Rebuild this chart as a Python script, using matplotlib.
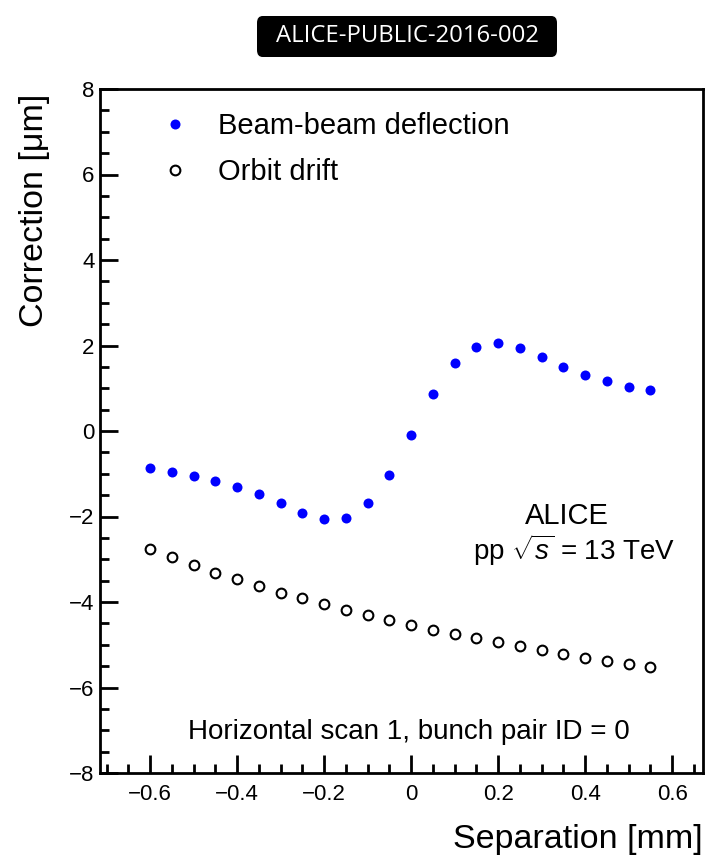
import matplotlib
matplotlib.use("Agg")
import matplotlib.pyplot as plt
from matplotlib.ticker import MultipleLocator
from matplotlib.patches import FancyBboxPatch

plt.rcParams['font.family'] = ['Liberation Sans', 'DejaVu Sans']
plt.rcParams['mathtext.fontset'] = 'custom'
plt.rcParams['mathtext.rm'] = 'Liberation Sans'
plt.rcParams['mathtext.it'] = 'Liberation Sans:italic'

separation = [-0.60, -0.55, -0.50, -0.45, -0.40, -0.35, -0.30, -0.25, -0.20, -0.15,
              -0.10, -0.05, 0.00, 0.05, 0.10, 0.15, 0.20, 0.25, 0.30, 0.35,
              0.40, 0.45, 0.50, 0.55]
beam_beam = [-0.87, -0.96, -1.05, -1.17, -1.32, -1.48, -1.68, -1.91, -2.06, -2.03,
             -1.68, -1.02, -0.10, 0.86, 1.58, 1.97, 2.05, 1.93, 1.73, 1.50,
             1.32, 1.17, 1.04, 0.95]
orbit_drift = [-2.77, -2.95, -3.13, -3.31, -3.47, -3.63, -3.78, -3.91, -4.05, -4.18,
               -4.31, -4.43, -4.53, -4.65, -4.75, -4.85, -4.94, -5.03, -5.13, -5.22,
               -5.30, -5.38, -5.45, -5.53]

fig = plt.figure(figsize=(7.12, 8.58), dpi=100)
ax = fig.add_axes([100/712, 1-773/858, (703-100)/712, (773-89)/858])

ax.plot(separation, beam_beam, 'o', color='#0000ff', markersize=7.2, markeredgewidth=0,
        label='Beam-beam deflection')
ax.plot(separation, orbit_drift, 'o', markerfacecolor='none', markeredgecolor='black',
        markersize=7.0, markeredgewidth=1.5, label='Orbit drift')

ax.set_xlim(-0.715, 0.671)
ax.set_ylim(-8, 8)
ax.xaxis.set_major_locator(MultipleLocator(0.2))
ax.xaxis.set_minor_locator(MultipleLocator(0.05))
ax.yaxis.set_major_locator(MultipleLocator(2))
ax.yaxis.set_minor_locator(MultipleLocator(0.5))
ax.xaxis.set_major_formatter(matplotlib.ticker.FuncFormatter(
    lambda v, p: '0' if abs(v) < 1e-9 else ('%.1f' % v).replace('-', '\u2212')))
ax.yaxis.set_major_formatter(matplotlib.ticker.FuncFormatter(
    lambda v, p: ('%d' % round(v)).replace('-', '\u2212')))
ax.tick_params(axis='both', which='major', direction='in', length=13, width=2,
               labelsize=16, top=False, right=False)
ax.tick_params(axis='both', which='minor', direction='in', length=6.5, width=2,
               top=False, right=False)
ax.tick_params(axis='x', pad=8)
ax.tick_params(axis='y', pad=4)
for s in ax.spines.values():
    s.set_linewidth(2)

ax.set_ylabel('Correction [\u03bcm]', fontsize=24.5)
ax.yaxis.set_label_coords(-0.083, 0.993)
ax.yaxis.label.set_horizontalalignment('right')
ax.set_xlabel('Separation [mm]', fontsize=24.5)
ax.xaxis.set_label_coords(1.0, -0.075)
ax.xaxis.label.set_horizontalalignment('right')

leg = ax.legend(loc='upper left', bbox_to_anchor=(0.096, 0.966), frameon=False,
                fontsize=21, handletextpad=0.86, labelspacing=0.62, borderpad=0,
                handlelength=1.2, borderaxespad=0)

ax.text(0.775, 0.375, 'ALICE', transform=ax.transAxes, ha='center', va='center', fontsize=21)
ax.text(0.787, 0.326, r'pp $\sqrt{s}$ = 13 TeV', transform=ax.transAxes, ha='center',
        va='center', fontsize=20)
ax.text(0.513, 0.06, 'Horizontal scan 1, bunch pair ID = 0', transform=ax.transAxes,
        ha='center', va='center', fontsize=20)

box = FancyBboxPatch((257/712, 1-57/858), (557-257)/712, (57-16)/858,
                     boxstyle='round,pad=0,rounding_size=0.008', transform=fig.transFigure,
                     facecolor='black', edgecolor='none')
fig.patches.append(box)
fig.text(407/712, 1-36/858, 'ALICE-PUBLIC-2016-002', color='white', ha='center', va='center',
         fontsize=17.2, family=['Open Sans', 'DejaVu Sans'])

fig.savefig('out.png', dpi=100)
